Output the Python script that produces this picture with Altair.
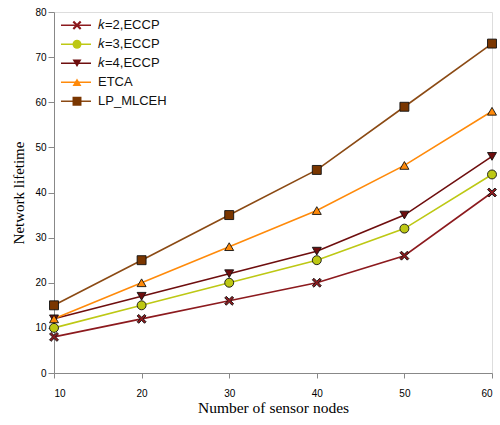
import altair as alt
import pandas as pd

nodes = [10, 20, 30, 40, 50, 60]
series_names = ["𝑘=2,ECCP", "𝑘=3,ECCP", "𝑘=4,ECCP", "ETCA", "LP_MLCEH"]
k2 = [8, 12, 16, 20, 26, 40]
k3 = [10, 15, 20, 25, 32, 44]
k4 = [12, 17, 22, 27, 35, 48]
etca = [12, 20, 28, 36, 46, 58]
lp = [15, 25, 35, 45, 59, 73]

line_colors = ["#8C1A1E", "#BDC814", "#6E0E0E", "#FF8A0A", "#8B4A14"]
fill_colors = ["#8C1A1E", "#BDC814", "#6E0E0E", "#FF8A0A", "#7A3600"]
xshape = "M-1,-0.65L-0.65,-1L0,-0.35L0.65,-1L1,-0.65L0.35,0L1,0.65L0.65,1L0,0.35L-0.65,1L-1,0.65L-0.35,0Z"
shapes = [xshape, "circle", "triangle-down", "triangle-up", "square"]

# marker series keys differ by a trailing space so their legend stays separate
marker_names = [n + " " for n in series_names]

rows = []
for name, mname, vals in zip(series_names, marker_names, [k2, k3, k4, etca, lp]):
    for n, v in zip(nodes, vals):
        rows.append({"nodes": n, "lifetime": v, "series": name, "series_p": mname})
df = pd.DataFrame(rows)

x = alt.X("nodes:Q", title="Number of sensor nodes",
          scale=alt.Scale(domain=[10, 60], nice=False),
          axis=alt.Axis(values=nodes, tickSize=5, labelPadding=10, grid=False,
                        titleFont="Liberation Serif", titleFontSize=15.5,
                        titleFontWeight="normal", titlePadding=2))
y = alt.Y("lifetime:Q", title="Network lifetime",
          scale=alt.Scale(domain=[0, 80], nice=False),
          axis=alt.Axis(values=list(range(0, 81, 10)), tickSize=6, labelPadding=2,
                        grid=False, titleFont="Liberation Serif", titleFontSize=15,
                        titleFontWeight="normal", titlePadding=8))

lines = alt.Chart(df).mark_line(strokeWidth=1.6).encode(
    x=x, y=y,
    stroke=alt.Stroke("series:N", scale=alt.Scale(domain=series_names, range=line_colors),
                      legend=alt.Legend(orient="none", legendX=6, legendY=4, title=None,
                                        symbolType="stroke", symbolSize=900,
                                        symbolStrokeWidth=1.6, clipHeight=18.5,
                                        rowPadding=0, padding=0, labelOffset=6,
                                        labelFont="Liberation Sans", labelFontSize=13,
                                        labelColor="#111")),
)

shape_legend = alt.Legend(orient="none", legendX=16.5, legendY=4, title=None,
                          symbolSize=80, symbolStrokeColor="#111",
                          symbolStrokeWidth=0.9, clipHeight=18.5,
                          rowPadding=0, padding=0, labelExpr="''",
                          labelFontSize=13, symbolOpacity=1)

points = alt.Chart(df).mark_point(filled=True, size=80, stroke="#111", strokeWidth=0.9, opacity=1).encode(
    x=x, y=y,
    fill=alt.Fill("series_p:N", scale=alt.Scale(domain=marker_names, range=fill_colors),
                  legend=shape_legend),
    shape=alt.Shape("series_p:N", scale=alt.Scale(domain=marker_names, range=shapes),
                    legend=shape_legend),
)

chart = alt.layer(lines, points).properties(
    width=438, height=361,
    autosize=alt.AutoSizeParams(type="none"),
    padding={"left": 54, "top": 12, "right": 8, "bottom": 52},
).configure_view(stroke="#888", strokeWidth=1.2).configure_axis(
    domainColor="#666", domainWidth=1.5, tickColor="#666", tickWidth=1.2,
    labelFont="Liberation Sans", labelFontSize=13, labelColor="#222",
    titleColor="#111",
).configure(background="white")

chart.save("out.html", embed_options={"renderer": "svg", "actions": False})
